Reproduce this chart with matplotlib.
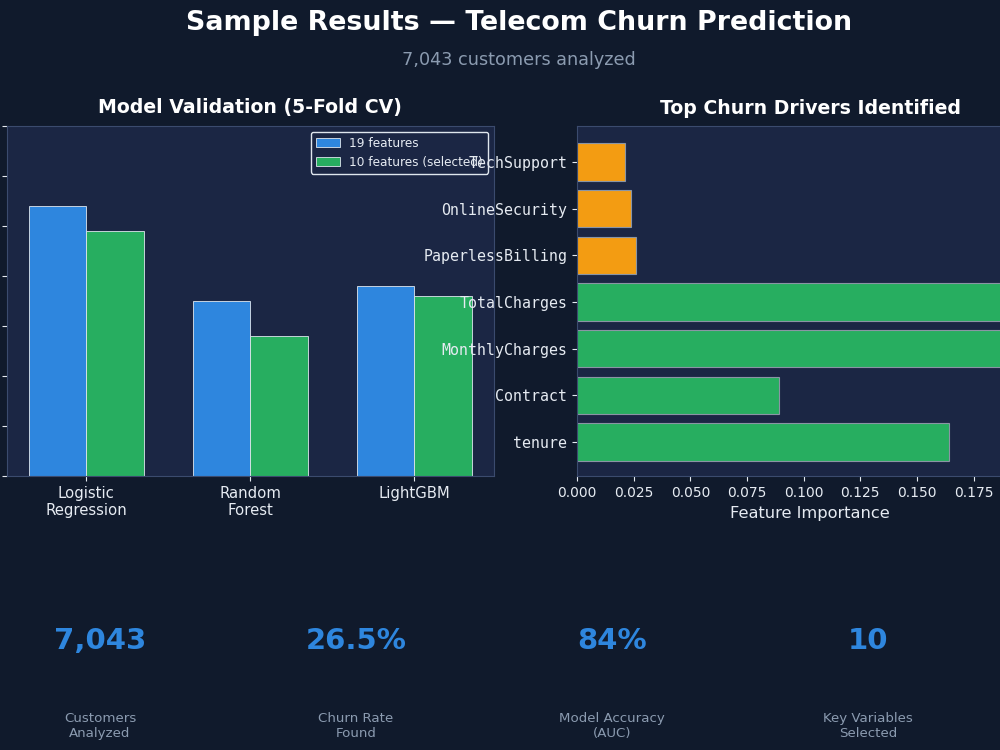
import numpy as np
import matplotlib
matplotlib.use("Agg")
import matplotlib.pyplot as plt

# data
models = ["Logistic\nRegression", "Random\nForest", "LightGBM"]
auc_all = [0.834, 0.815, 0.818]
auc_sel = [0.829, 0.808, 0.816]
cv_ticks = [0.78, 0.79, 0.80, 0.81, 0.82, 0.83, 0.84, 0.85]

features = ["tenure", "Contract", "MonthlyCharges", "TotalCharges",
            "PaperlessBilling", "OnlineSecurity", "TechSupport"]
importance = [0.164, 0.089, 0.196, 0.190, 0.026, 0.024, 0.021]
feat_colors = ["#27ae60", "#27ae60", "#27ae60", "#27ae60",
               "#f39c12", "#f39c12", "#f39c12"]

stat_values = ["7,043", "26.5%", "84%", "10"]
stat_labels = ["Customers\nAnalyzed", "Churn Rate\nFound",
               "Model Accuracy\n(AUC)", "Key Variables\nSelected"]

BG = "#101a2c"
PANEL = "#1b2644"
SPINE = "#3b4b6e"
TXT = "#e6ebf2"
MUTED = "#8b9bb0"
BLUE = "#2e86de"
GREEN = "#27ae60"

fig = plt.figure(figsize=(10, 7.5), dpi=100, facecolor=BG)

fig.text(0.519, 0.970, "Sample Results \u2014 Telecom Churn Prediction",
         ha="center", va="center", fontsize=19.4, fontweight="bold", color="white")
fig.text(0.519, 0.920, "7,043 customers analyzed",
         ha="center", va="center", fontsize=12.7, color=MUTED)

# left: model validation
ax1 = fig.add_axes([0.0065, 0.365, 0.4875, 0.467])
ax1.set_facecolor(PANEL)
x = np.arange(len(models))
w = 0.35
ax1.bar(x - w / 2, auc_all, w, color=BLUE, edgecolor="#dfe6ee", linewidth=0.6, label="19 features")
ax1.bar(x + w / 2, auc_sel, w, color=GREEN, edgecolor="#dfe6ee", linewidth=0.6, label="10 features (selected)")
ax1.set_ylim(cv_ticks[0], cv_ticks[-1])
ax1.set_yticks(cv_ticks)
ax1.set_xticks(x)
ax1.set_xticklabels(models, fontsize=10.7, color=TXT)
ax1.tick_params(axis="y", colors=TXT, labelsize=10)
ax1.tick_params(axis="x", colors=TXT)
ax1.set_title("Model Validation (5-Fold CV)", fontsize=13.6, fontweight="bold", color="white", pad=9)
for s in ax1.spines.values():
    s.set_color(SPINE)
leg = ax1.legend(loc="upper right", fontsize=8.7, facecolor=PANEL, edgecolor="#dfe6ee",
                 labelcolor=TXT, framealpha=1, borderaxespad=0.5)

# right: feature importance
ax2 = fig.add_axes([0.577, 0.365, 0.466, 0.467])
ax2.set_facecolor(PANEL)
y = np.arange(len(features))
ax2.barh(y, importance, height=0.8, color=feat_colors, edgecolor="#8a95a5", linewidth=0.8)
ax2.set_xlim(0, 0.2056)
ax2.set_ylim(-0.73, 6.77)
ax2.set_yticks(y)
ax2.set_yticklabels(features, fontsize=10.7, color=TXT, family="DejaVu Sans Mono")
ax2.set_xticks([0, 0.025, 0.05, 0.075, 0.1, 0.125, 0.15, 0.175])
ax2.xaxis.set_major_formatter(matplotlib.ticker.FormatStrFormatter("%.3f"))
ax2.tick_params(axis="x", colors=TXT, labelsize=10)
ax2.tick_params(axis="y", colors=TXT)
ax2.set_xlabel("Feature Importance", fontsize=11.7, color=TXT)
ax2.set_title("Top Churn Drivers Identified", fontsize=13.6, fontweight="bold", color="white", pad=9)
for s in ax2.spines.values():
    s.set_color(SPINE)

# stat cards
for i, (v, lab) in enumerate(zip(stat_values, stat_labels)):
    cx = (100 + 256 * i) / 1000
    fig.text(cx, 1 - 641 / 750, v, ha="center", va="center", fontsize=21,
             fontweight="bold", color=BLUE)
    fig.text(cx, 1 - 726 / 750, lab, ha="center", va="center", fontsize=9.6,
             color=MUTED, linespacing=1.15)

fig.savefig("out.png", dpi=100, facecolor=BG)
